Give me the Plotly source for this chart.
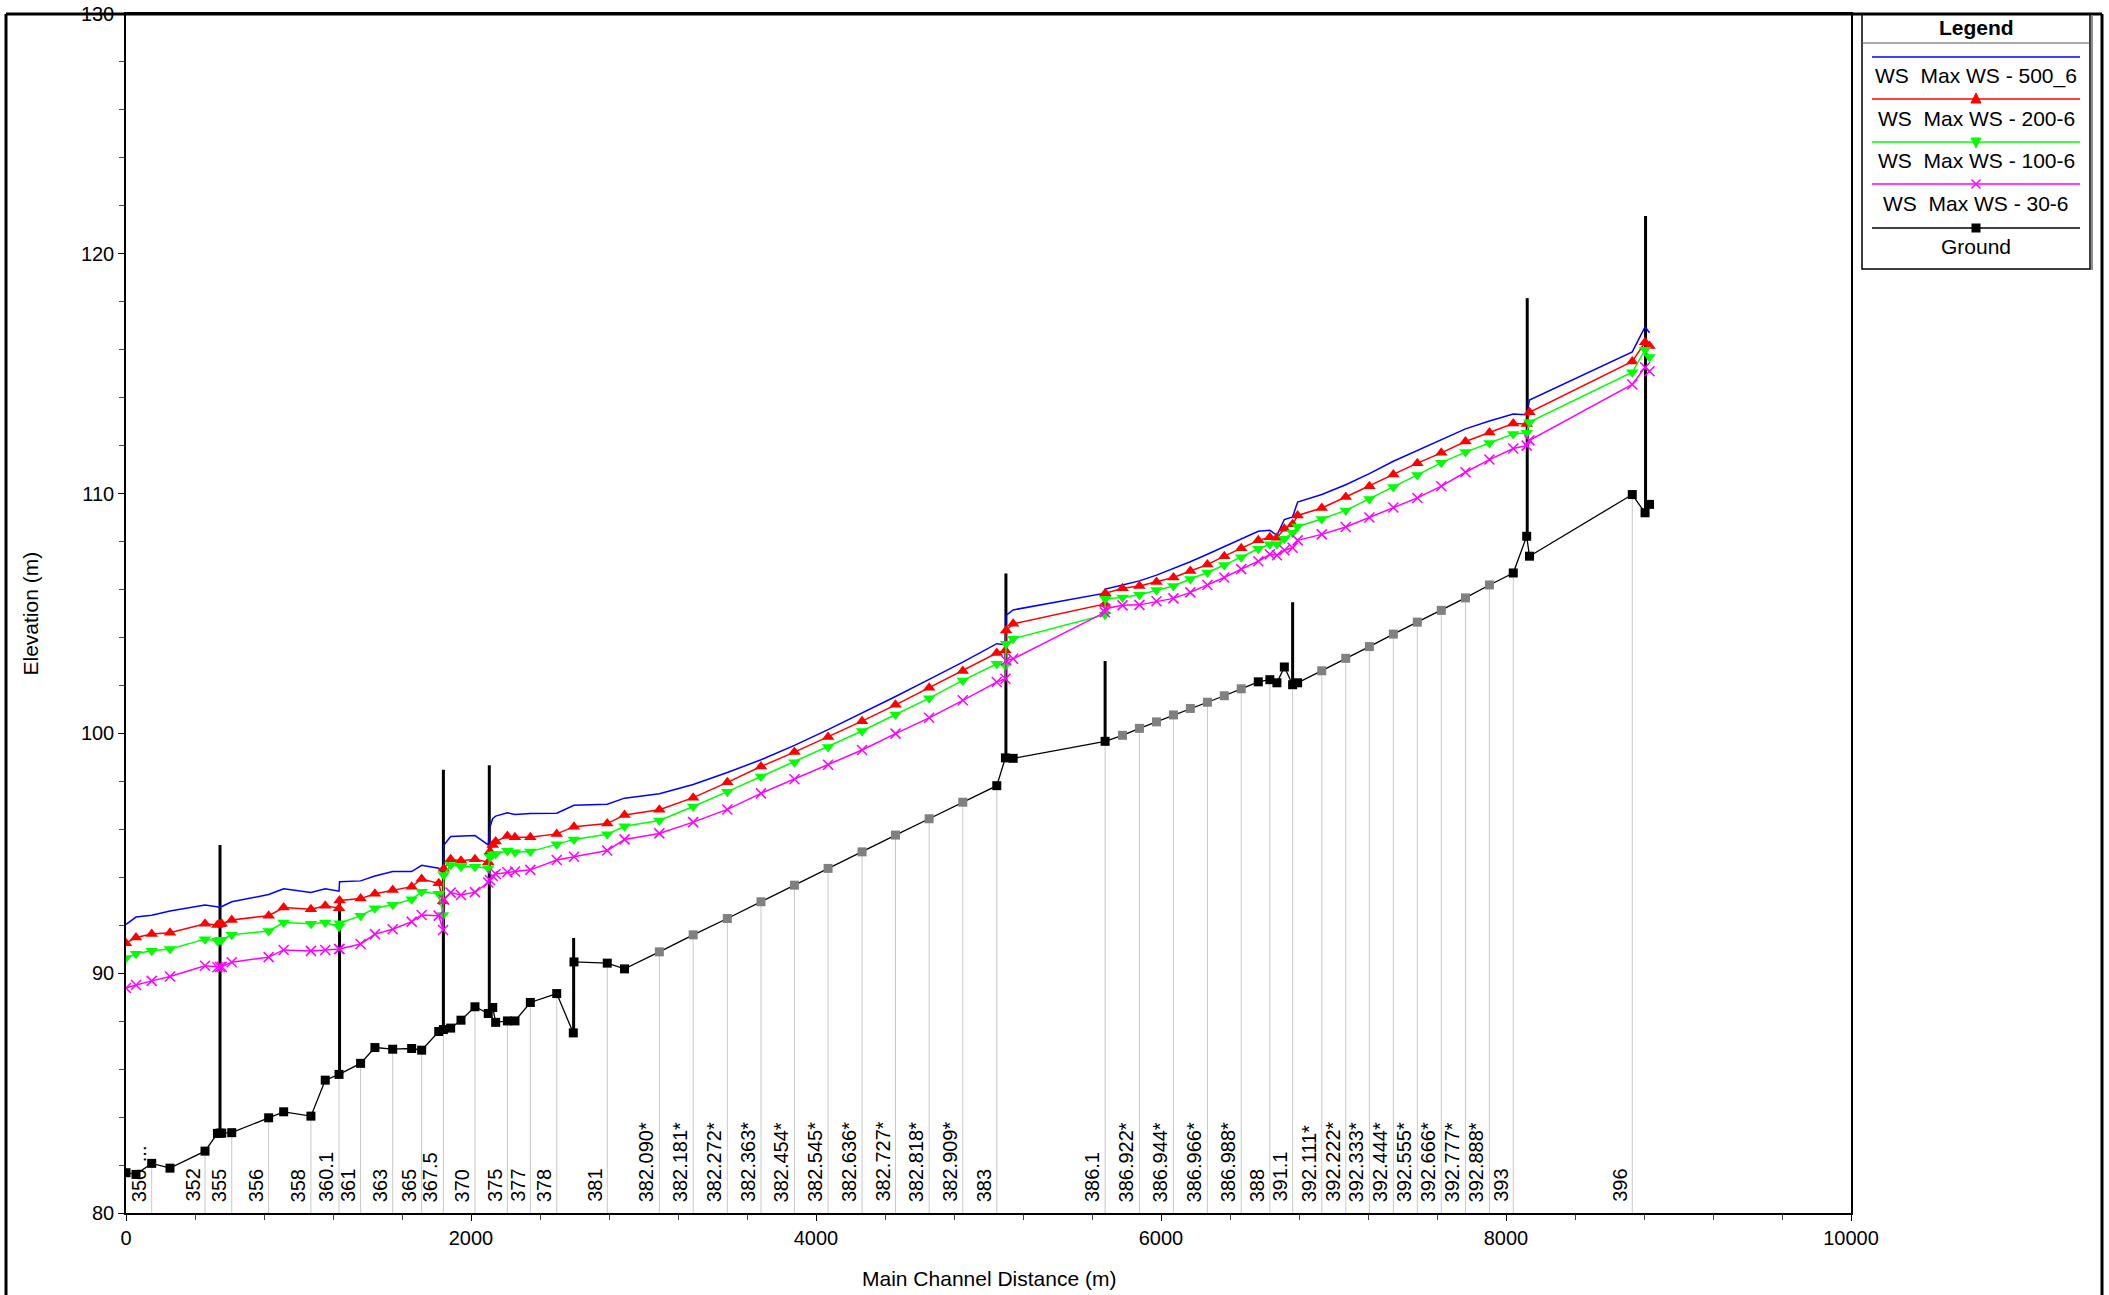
import plotly.graph_objects as go
import numpy as np

# ---------------- DATA ----------------
ws_station = [0, 58, 149, 255, 458, 530, 545, 555, 613, 827, 914, 1072, 1155, 1235, 1238, 1360, 1443, 1546, 1656, 1714,
              1813, 1838, 1842, 1882, 1942, 2023, 2100, 2110, 2126, 2143, 2211, 2255, 2344, 2497, 2597, 2790, 2890, 3092,
              3288, 3486, 3681, 3875, 4070, 4267, 4461, 4656, 4851, 5048, 5098, 5102, 5143, 5675, 5677, 5777, 5875, 5974,
              6072, 6170, 6269, 6367, 6465, 6564, 6631, 6672, 6715, 6763, 6792, 6932, 7071, 7208, 7347, 7486, 7625, 7765,
              7904, 8042, 8120, 8136, 8732, 8806, 8832]

ws_500 = [92.03, 92.34, 92.42, 92.59, 92.84, 92.77, 92.75, 92.78, 92.98, 93.28,
          93.52, 93.37, 93.52, 93.42, 93.81, 93.85, 94.05, 94.24, 94.24, 94.50,
          94.38, 94.15, 95.33, 95.70, 95.72, 95.74, 95.35, 96.10, 96.45, 96.55,
          96.69, 96.62, 96.66, 96.67, 97.00, 97.05, 97.30, 97.48, 97.87, 98.37,
          98.90, 99.50, 100.16, 100.84, 101.54, 102.25, 102.97, 103.74, 103.70, 104.92,
          105.15, 105.85, 106.02, 106.19, 106.36, 106.60, 106.87, 107.16, 107.47, 107.80,
          108.12, 108.43, 108.47, 108.26, 108.92, 109.03, 109.65, 109.96, 110.37, 110.83,
          111.35, 111.80, 112.25, 112.70, 113.03, 113.32, 113.29, 113.90, 115.91, 116.95,
          116.71]

ws_200 = [91.25, 91.49, 91.63, 91.69, 92.06, 92.01, 92.04, 92.06, 92.22, 92.40,
          92.74, 92.67, 92.81, 92.71, 93.03, 93.11, 93.31, 93.47, 93.61, 93.93,
          93.75, 93.00, 94.36, 94.75, 94.69, 94.75, 94.63, 95.07, 95.35, 95.49,
          95.72, 95.67, 95.67, 95.81, 96.11, 96.24, 96.60, 96.82, 97.32, 97.96,
          98.62, 99.22, 99.85, 100.51, 101.19, 101.90, 102.60, 103.35, 103.46, 104.29,
          104.57, 105.40, 105.84, 106.05, 106.15, 106.31, 106.50, 106.77, 107.04, 107.39,
          107.72, 108.05, 108.18, 108.16, 108.53, 108.72, 109.09, 109.40, 109.86, 110.31,
          110.80, 111.27, 111.70, 112.17, 112.55, 112.92, 112.90, 113.39, 115.51, 116.31,
          116.15]

ws_100 = [90.63, 90.81, 90.94, 91.01, 91.42, 91.35, 91.38, 91.40, 91.60, 91.76,
          92.11, 92.06, 92.11, 91.94, 92.08, 92.40, 92.71, 92.85, 93.08, 93.40,
          93.31, 92.43, 94.10, 94.51, 94.44, 94.44, 94.38, 94.86, 94.95, 94.97,
          95.11, 95.04, 95.07, 95.38, 95.58, 95.79, 96.13, 96.37, 96.95, 97.57,
          98.20, 98.80, 99.43, 100.10, 100.79, 101.47, 102.21, 102.90, 102.83, 103.74,
          103.95, 104.95, 105.61, 105.67, 105.78, 105.98, 106.15, 106.44, 106.71, 107.02,
          107.35, 107.70, 107.89, 107.89, 108.12, 108.37, 108.63, 108.94, 109.30, 109.78,
          110.28, 110.78, 111.29, 111.73, 112.11, 112.49, 112.54, 112.98, 115.06, 116.00,
          115.70]

ws_30 = [89.38, 89.51, 89.68, 89.86, 90.31, 90.25, 90.26, 90.27, 90.46, 90.67,
         90.97, 90.93, 90.97, 91.01, 91.01, 91.22, 91.63, 91.83, 92.15, 92.43,
         92.40, 91.80, 93.06, 93.36, 93.26, 93.38, 93.78, 93.89, 94.05, 94.14,
         94.21, 94.24, 94.31, 94.72, 94.86, 95.12, 95.58, 95.83, 96.30, 96.83,
         97.50, 98.09, 98.69, 99.31, 99.99, 100.65, 101.38, 102.14, 102.28, 103.04,
         103.11, 105.05, 105.20, 105.34, 105.36, 105.51, 105.63, 105.88, 106.19, 106.50,
         106.85, 107.18, 107.47, 107.43, 107.64, 107.74, 108.05, 108.30, 108.61, 109.00,
         109.42, 109.82, 110.31, 110.89, 111.42, 111.88, 112.00, 112.22, 114.55, 115.27,
         115.10]

ground_station = [0, 58, 149, 255, 458, 530, 545, 555, 613, 827, 914, 1072, 1155, 1235, 1360, 1443, 1546, 1656, 1714,
                  1813, 1840, 1882, 1942, 2023, 2100, 2126, 2143, 2211, 2255, 2344, 2497, 2593, 2597, 2790, 2890, 3092,
                  3288, 3486, 3681, 3875, 4070, 4267, 4461, 4656, 4851, 5048, 5098, 5143, 5676, 5777, 5875, 5974, 6072,
                  6170, 6269, 6367, 6465, 6564, 6631, 6672, 6715, 6763, 6792, 6932, 7071, 7208, 7347, 7486, 7625, 7765,
                  7904, 8042, 8120, 8136, 8732, 8806, 8832]
ground_elev = [81.68, 81.61, 82.07, 81.87, 82.58, 83.32, 83.33, 83.33, 83.35, 83.97,
               84.22, 84.04, 85.54, 85.78, 86.24, 86.90, 86.83, 86.86, 86.79, 87.57,
               87.65, 87.71, 88.04, 88.60, 88.32, 88.57, 87.95, 88.01, 88.01, 88.78,
               89.15, 87.51, 90.47, 90.42, 90.18, 90.89, 91.60, 92.28, 92.98, 93.67,
               94.37, 95.06, 95.76, 96.44, 97.13, 97.82, 98.98, 98.96, 99.67, 99.92,
               100.21, 100.48, 100.77, 101.04, 101.30, 101.57, 101.86, 102.15, 102.24, 102.11,
               102.77, 102.03, 102.11, 102.61, 103.13, 103.62, 104.14, 104.64, 105.13, 105.65,
               106.19, 106.69, 108.22, 107.39, 109.96, 109.20, 109.55]
# interpolated cross sections (drawn with grey markers)
ground_interp_station = [3092, 3288, 3486, 3681, 3875, 4070, 4267, 4461, 4656, 4851,
                         5777, 5875, 5974, 6072, 6170, 6269, 6367, 6465,
                         6932, 7071, 7208, 7347, 7486, 7625, 7765, 7904]

struct_station = [545, 1238, 1840, 2106, 2595, 5101, 5676, 6763, 8123, 8809]
struct_bottom = [83.33, 85.78, 87.65, 88.40, 87.51, 98.97, 99.67, 102.03, 108.22, 109.20]
struct_top = [95.35, 93.10, 98.48, 98.67, 91.47, 106.67, 103.02, 105.47, 118.15, 121.58]

label_text = ["350", "352", "355", "356", "358", "360.1", "361", "363", "365", "367.5", "370", "375", "377", "378",
              "381", "382.090*", "382.181*", "382.272*", "382.363*", "382.454*", "382.545*", "382.636*", "382.727*",
              "382.818*", "382.909*", "383", "386.1", "386.922*", "386.944*", "386.966*", "386.988*", "388", "391.1",
              "392.111*", "392.222*", "392.333*", "392.444*", "392.555*", "392.666*", "392.777*", "392.888*", "393",
              "396"]
label_station = [149, 458, 613, 827, 1072, 1235, 1360, 1546, 1714, 1840, 2023, 2211, 2344, 2497,
                 2790, 3092, 3288, 3486, 3681, 3875, 4070, 4267, 4461,
                 4656, 4851, 5048, 5676, 5875, 6072, 6269, 6465, 6631, 6763,
                 6932, 7071, 7208, 7347, 7486, 7625, 7765, 7904, 8042,
                 8732]

x_ticks = [0, 2000, 4000, 6000, 8000, 10000]
x_tick_text = ["0", "2000", "4000", "6000", "8000", "10000"]
y_ticks = [80, 90, 100, 110, 120, 130]
y_tick_text = ["80", "90", "100", "110", "120", "130"]

legend_names = ["WS\u00a0 Max WS - 500_6", "WS\u00a0 Max WS - 200-6", "WS\u00a0 Max WS - 100-6",
                "WS\u00a0 Max WS - 30-6", "Ground"]

# ---------------- LAYOUT GEOMETRY ----------------
W, H = 2109, 1295
L, R, T, B = 126, 1851, 14, 1213
X0, X1, Y0, Y1 = x_ticks[0], x_ticks[-1], y_ticks[0], y_ticks[-1]


def pxp(px):
    return (px - L) / (R - L)


def pyp(py):
    return (B - py) / (B - T)


FONT = "Liberation Sans, Arial, sans-serif"
BLUE, RED, GREEN, MAG = "#0000ff", "#ff0000", "#00ff00", "#ff00ff"

fig = go.Figure()

# grey drop lines from ground to the axis at labelled sections
gx, gy = [], []
for s in label_station:
    e = float(np.interp(s, ground_station, ground_elev))
    gx += [s, s, None]
    gy += [e, Y0, None]
fig.add_trace(go.Scatter(x=gx, y=gy, mode="lines", line=dict(color="#c8c8c8", width=1),
                         hoverinfo="skip", showlegend=False))

# structures
sx, sy = [], []
for s, b, t in zip(struct_station, struct_bottom, struct_top):
    sx += [s, s, None]
    sy += [b, t, None]
fig.add_trace(go.Scatter(x=sx, y=sy, mode="lines", line=dict(color="black", width=3),
                         hoverinfo="skip", showlegend=False))

# ground
gcol = ["#808080" if s in ground_interp_station else "black" for s in ground_station]
fig.add_trace(go.Scatter(x=ground_station, y=ground_elev, mode="lines+markers", name="Ground",
                         line=dict(color="black", width=1.3),
                         marker=dict(symbol="square", size=9, color=gcol, line=dict(width=0)),
                         showlegend=False))

fig.add_trace(go.Scatter(x=ws_station, y=ws_500, mode="lines", name=legend_names[0],
                         line=dict(color=BLUE, width=1.5), showlegend=False))
fig.add_trace(go.Scatter(x=ws_station, y=ws_200, mode="lines+markers", name=legend_names[1],
                         line=dict(color=RED, width=1.5),
                         marker=dict(symbol="triangle-up", size=11, color=RED), showlegend=False))
fig.add_trace(go.Scatter(x=ws_station, y=ws_100, mode="lines+markers", name=legend_names[2],
                         line=dict(color=GREEN, width=1.5),
                         marker=dict(symbol="triangle-down", size=11, color=GREEN), showlegend=False))
fig.add_trace(go.Scatter(x=ws_station, y=ws_30, mode="lines+markers", name=legend_names[3],
                         line=dict(color=MAG, width=1.5),
                         marker=dict(symbol="x-thin", size=10, color=MAG, line=dict(color=MAG, width=1.5)),
                         showlegend=False))

# ---------------- custom legend ----------------
leg_x0, leg_x1, leg_y0, leg_y1 = 1862, 2090, 14, 269
line_y = [57, 99, 142, 184, 228]
text_y = [76, 118, 161, 203, 246]
leg_colors = [BLUE, RED, GREEN, MAG, "black"]
leg_symbols = [None, "triangle-up", "triangle-down", "x", "square"]
mk_cx, mk_r = 1976, 5
shapes = []
shapes.append(dict(type="rect", xref="paper", yref="paper", x0=pxp(leg_x0), x1=pxp(leg_x1),
                   y0=pyp(leg_y1), y1=pyp(leg_y0), line=dict(color="black", width=1.5), fillcolor="white",
                   layer="below"))
shapes.append(dict(type="line", xref="paper", yref="paper", x0=pxp(leg_x1 + 2), x1=pxp(leg_x1 + 2),
                   y0=pyp(leg_y1 + 1), y1=pyp(leg_y0 + 2), line=dict(color="#909090", width=2), layer="below"))
shapes.append(dict(type="line", xref="paper", yref="paper", x0=pxp(leg_x0), x1=pxp(leg_x1),
                   y0=pyp(43), y1=pyp(43), line=dict(color="#555555", width=1), layer="below"))
for yy, c, sym in zip(line_y, leg_colors, leg_symbols):
    shapes.append(dict(type="line", xref="paper", yref="paper", x0=pxp(1872), x1=pxp(2080),
                       y0=pyp(yy), y1=pyp(yy), line=dict(color=c, width=1.5)))
    if sym == "triangle-up":
        pts = [(mk_cx - mk_r, yy + 4), (mk_cx + mk_r, yy + 4), (mk_cx, yy - 6)]
    elif sym == "triangle-down":
        pts = [(mk_cx - mk_r, yy - 4), (mk_cx + mk_r, yy - 4), (mk_cx, yy + 6)]
    else:
        pts = None
    if pts:
        path = "M {} {} L {} {} L {} {} Z".format(*[v for p in pts for v in (pxp(p[0]), pyp(p[1]))])
        shapes.append(dict(type="path", xref="paper", yref="paper", path=path, fillcolor=c,
                           line=dict(color=c, width=1)))
    elif sym == "square":
        shapes.append(dict(type="rect", xref="paper", yref="paper", x0=pxp(mk_cx - 4.5), x1=pxp(mk_cx + 4.5),
                           y0=pyp(yy + 4.5), y1=pyp(yy - 4.5), fillcolor=c, line=dict(color=c, width=0)))
    elif sym == "x":
        for d in (1, -1):
            shapes.append(dict(type="line", xref="paper", yref="paper", x0=pxp(mk_cx - 4.5), x1=pxp(mk_cx + 4.5),
                               y0=pyp(yy - 4.5 * d), y1=pyp(yy + 4.5 * d), line=dict(color=c, width=1.5)))

# outer frame
frame_l, frame_t, frame_r = 6, 14, 2102
shapes.append(dict(type="line", xref="paper", yref="paper", x0=pxp(frame_l), x1=pxp(frame_r),
                   y0=pyp(frame_t), y1=pyp(frame_t), line=dict(color="black", width=3)))
shapes.append(dict(type="line", xref="paper", yref="paper", x0=pxp(frame_l), x1=pxp(frame_l),
                   y0=pyp(frame_t), y1=pyp(H + 10), line=dict(color="black", width=3)))
shapes.append(dict(type="line", xref="paper", yref="paper", x0=pxp(frame_r), x1=pxp(frame_r),
                   y0=pyp(frame_t), y1=pyp(H + 10), line=dict(color="black", width=3)))

annotations = []
annotations.append(dict(text="<b>Legend</b>", xref="paper", yref="paper", x=pxp((leg_x0 + leg_x1) / 2),
                        y=pyp(28), showarrow=False, font=dict(family=FONT, size=21, color="black"),
                        xanchor="center", yanchor="middle"))
for t, yy in zip(legend_names, text_y):
    annotations.append(dict(text=t, xref="paper", yref="paper", x=pxp((leg_x0 + leg_x1) / 2), y=pyp(yy),
                            showarrow=False, font=dict(family=FONT, size=21, color="black"),
                            xanchor="center", yanchor="middle"))

for t, s in zip(label_text, label_station):
    annotations.append(dict(text=t, x=s, y=Y0, xref="x", yref="y", showarrow=False, textangle=-90,
                            xanchor="right", yanchor="bottom", xshift=0, yshift=9,
                            font=dict(family=FONT, size=20, color="black")))
annotations.append(dict(text="...", x=label_station[0], y=Y0, xref="x", yref="y", showarrow=False,
                        textangle=-90, xanchor="right", yanchor="bottom", xshift=0, yshift=49,
                        font=dict(family=FONT, size=20, color="black")))

annotations.append(dict(text="Main Channel Distance (m)", xref="paper", yref="paper", x=0.5, y=pyp(1278),
                        showarrow=False, font=dict(family=FONT, size=21, color="black"),
                        xanchor="center", yanchor="middle"))
annotations.append(dict(text="Elevation (m)", xref="paper", yref="paper", x=pxp(30), y=0.5, textangle=-90,
                        showarrow=False, font=dict(family=FONT, size=21, color="black"),
                        xanchor="center", yanchor="middle"))

axis_common = dict(showgrid=False, zeroline=False, showline=True, linecolor="black", linewidth=1.5,
                   mirror=True, ticks="outside", ticklen=6, tickcolor="black", tickwidth=1,
                   automargin=False, tickfont=dict(family=FONT, size=20, color="black"))
fig.update_layout(
    width=W, height=H,
    margin=dict(l=L, r=W - R, t=T, b=H - B, pad=0, autoexpand=False),
    paper_bgcolor="white", plot_bgcolor="white",
    showlegend=False,
    xaxis=dict(range=[X0, X1], tickmode="array", tickvals=x_ticks, ticktext=x_tick_text,
               minor=dict(dtick=400, ticks="outside", ticklen=5, tickcolor="#444444"), **axis_common),
    yaxis=dict(range=[Y0, Y1], tickmode="array", tickvals=y_ticks, ticktext=y_tick_text,
               minor=dict(dtick=2, ticks="outside", ticklen=5, tickcolor="#444444"), **axis_common),
    shapes=shapes,
    annotations=annotations,
    font=dict(family=FONT),
)

fig.write_html("out.html", config={"displayModeBar": False},
               post_script="document.body.style.margin='0';document.body.style.overflow='hidden';")
